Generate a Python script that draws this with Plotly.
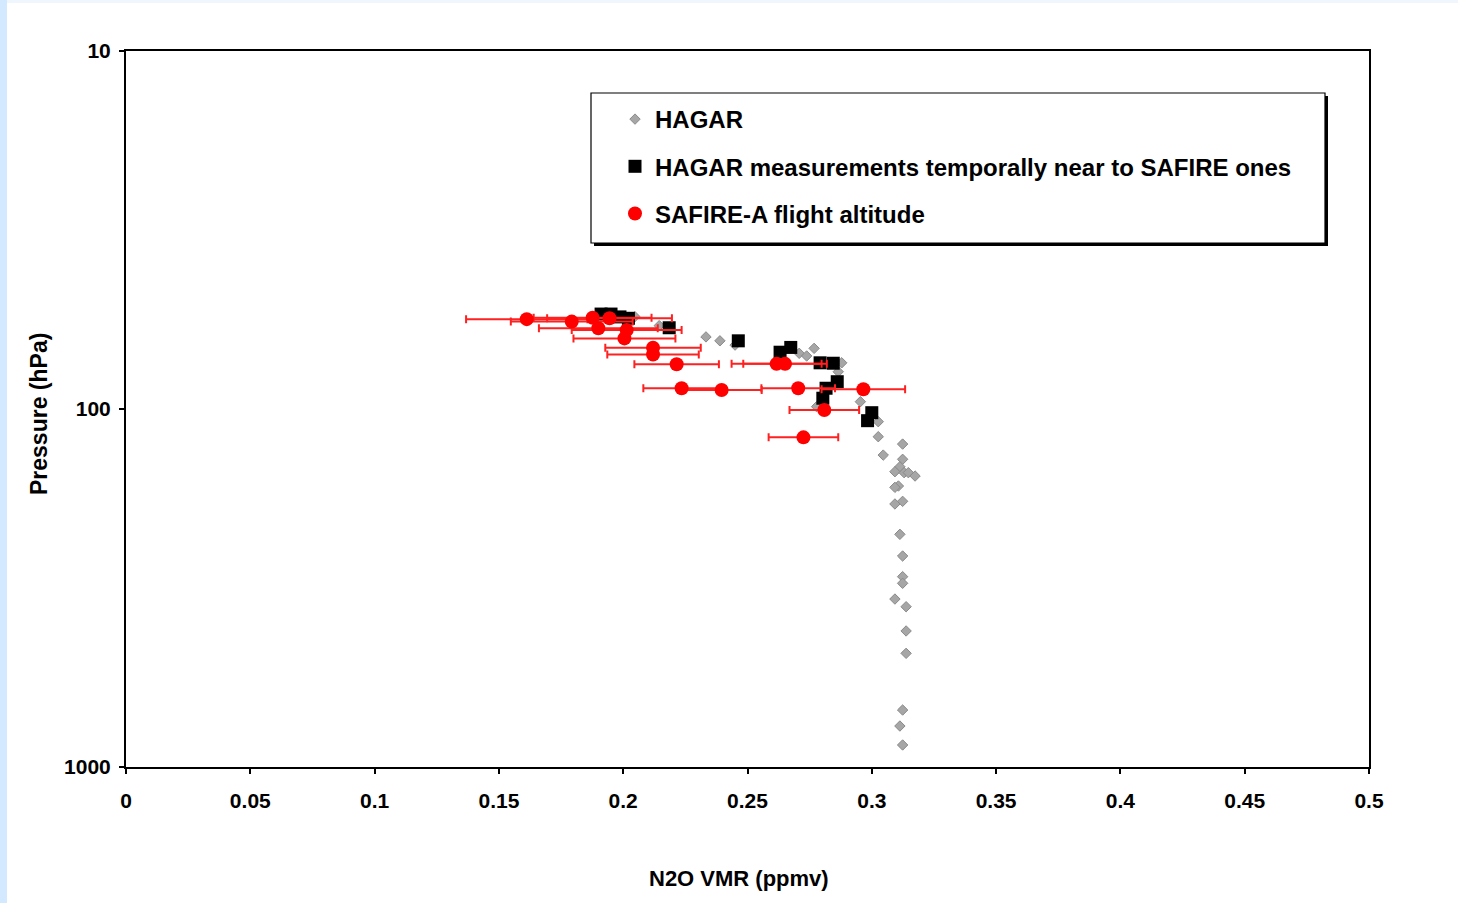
import plotly.graph_objects as go

# HAGAR (all measurements)
hagar_x = [0.2047, 0.2145, 0.2333, 0.2389, 0.2450, 0.2708, 0.2738, 0.2768, 0.2879, 0.2865,
           0.2778, 0.2954, 0.3026, 0.3026, 0.3124, 0.3046, 0.3124, 0.3113, 0.3093, 0.3130,
           0.3147, 0.3174, 0.3107, 0.3093, 0.3093, 0.3124, 0.3113, 0.3124, 0.3124, 0.3124,
           0.3093, 0.3138, 0.3138, 0.3138, 0.3124, 0.3113, 0.3124]
hagar_p = [55.2, 58.5, 62.9, 64.5, 66.3, 69.9, 71.1, 67.7, 74.3, 78.7,
           98.5, 95.4, 108.5, 119.5, 125.3, 134.5, 138.2, 145.0, 149.7, 150.6,
           150.6, 153.9, 164.1, 165.5, 184.2, 181.1, 223.9, 257.4, 294.0, 306.8,
           339.5, 356.7, 416.9, 481.4, 693.2, 768.3, 868.0]

# HAGAR measurements temporally near to SAFIRE ones
near_x = [0.1911, 0.1951, 0.1987, 0.2021, 0.2185, 0.2463, 0.2631, 0.2674, 0.2792, 0.2845,
          0.2861, 0.2816, 0.2803, 0.3000, 0.2983]
near_p = [54.3, 54.3, 55.3, 55.8, 59.3, 64.5, 69.4, 67.3, 74.3, 74.5,
          83.9, 87.5, 93.3, 102.4, 107.8]

# SAFIRE-A flight altitude
safire_x = [0.1612, 0.1793, 0.1877, 0.1945, 0.1900, 0.2014, 0.2005, 0.2120, 0.2120, 0.2215,
            0.2235, 0.2396, 0.2617, 0.2651, 0.2704, 0.2966, 0.2809, 0.2725]
safire_p = [56.1, 57.0, 55.6, 55.8, 59.5, 60.2, 63.5, 67.4, 70.4, 75.0,
            87.5, 88.5, 74.8, 74.8, 87.5, 88.1, 100.6, 120.0]
safire_err = [0.0244, 0.0245, 0.0237, 0.0251, 0.0239, 0.0221, 0.0205, 0.0192, 0.0184, 0.0170,
              0.0154, 0.0161, 0.0181, 0.0168, 0.0148, 0.0168, 0.0140, 0.0140]

x_ticks = [0, 0.05, 0.1, 0.15, 0.2, 0.25, 0.3, 0.35, 0.4, 0.45, 0.5]
y_ticks = [10, 100, 1000]

W, H = 1458, 903
ML, MR, MT, MB = 126, 89, 51, 136
PW, PH = W - ML - MR, H - MT - MB


def px(xp):
    return (xp - ML) / PW


def py(yp):
    return (H - MB - yp) / PH


FONT = "Liberation Sans, Arial, sans-serif"

fig = go.Figure()
fig.add_trace(go.Scatter(
    x=hagar_x, y=hagar_p, mode="markers", name="HAGAR", legendgroup="a",
    marker=dict(symbol="diamond", size=8, color="#a6a6a6",
                line=dict(width=1, color="#8a8a8a"))))
fig.add_trace(go.Scatter(
    x=near_x, y=near_p, mode="markers",
    name="HAGAR measurements temporally near to SAFIRE ones", legendgroup="b",
    marker=dict(symbol="square", size=13, color="#000000")))
fig.add_trace(go.Scatter(
    x=safire_x, y=safire_p, mode="markers", name="SAFIRE-A flight altitude", legendgroup="c",
    marker=dict(symbol="circle", size=14, color="#ff0000"),
    error_x=dict(type="data", array=safire_err, color="#ff2020", thickness=2, width=4)))

shapes = [
    # page left strip & top strip
    dict(type="rect", xref="paper", yref="paper", x0=px(0), x1=px(7), y0=py(H), y1=py(0),
         fillcolor="#d2e9ff", line=dict(width=0), layer="below"),
    dict(type="rect", xref="paper", yref="paper", x0=px(7), x1=px(W), y0=py(3), y1=py(0),
         fillcolor="#f0f6fd", line=dict(width=0), layer="below"),
    # legend shadow and box
    dict(type="rect", xref="paper", yref="paper", x0=px(594), x1=px(1328), y0=py(246), y1=py(96),
         fillcolor="#000000", line=dict(width=0), layer="below"),
    dict(type="rect", xref="paper", yref="paper", x0=px(591), x1=px(1325), y0=py(243), y1=py(93),
         fillcolor="#ffffff", line=dict(width=1.2, color="#000000"), layer="below"),
]

annotations = [
    dict(text="N2O VMR (ppmv)", xref="paper", yref="paper", x=px(738.5), y=py(878),
         xanchor="center", yanchor="middle", showarrow=False,
         font=dict(family=FONT, size=22, color="#000000", weight="bold")),
    dict(text="Pressure (hPa)", xref="paper", yref="paper", x=px(39), y=py(414),
         xanchor="center", yanchor="middle", showarrow=False, textangle=-90,
         font=dict(family=FONT, size=23, color="#000000", weight="bold")),
]

fig.update_layout(
    width=W, height=H,
    margin=dict(l=ML, r=MR, t=MT, b=MB, pad=0),
    paper_bgcolor="#ffffff", plot_bgcolor="#ffffff",
    font=dict(family=FONT, color="#000000", size=20, weight="bold"),
    showlegend=True,
    legend=dict(x=px(615), y=py(97), xanchor="left", yanchor="top",
                bgcolor="rgba(0,0,0,0)", borderwidth=0,
                font=dict(family=FONT, size=24, color="#000000", weight="bold"),
                traceorder="grouped", tracegroupgap=13, itemwidth=30),
    shapes=shapes,
    annotations=annotations,
    xaxis=dict(range=[0, 0.5], tickvals=x_ticks, ticks="outside", ticklen=5, tickwidth=1.5,
               tickcolor="#000000", showline=True, linewidth=2, linecolor="#000000", mirror=True,
               showgrid=False, zeroline=False, ticklabelstandoff=9,
               tickfont=dict(family=FONT, size=21, weight="bold")),
    yaxis=dict(type="log", range=[3, 1], tickvals=y_ticks, ticktext=[str(v) for v in y_ticks],
               ticks="outside", ticklen=5, tickwidth=1.5, tickcolor="#000000",
               showline=True, linewidth=2, linecolor="#000000", mirror=True,
               showgrid=False, zeroline=False, ticklabelstandoff=4,
               tickfont=dict(family=FONT, size=21, weight="bold")),
)

fig.write_html("out.html")
